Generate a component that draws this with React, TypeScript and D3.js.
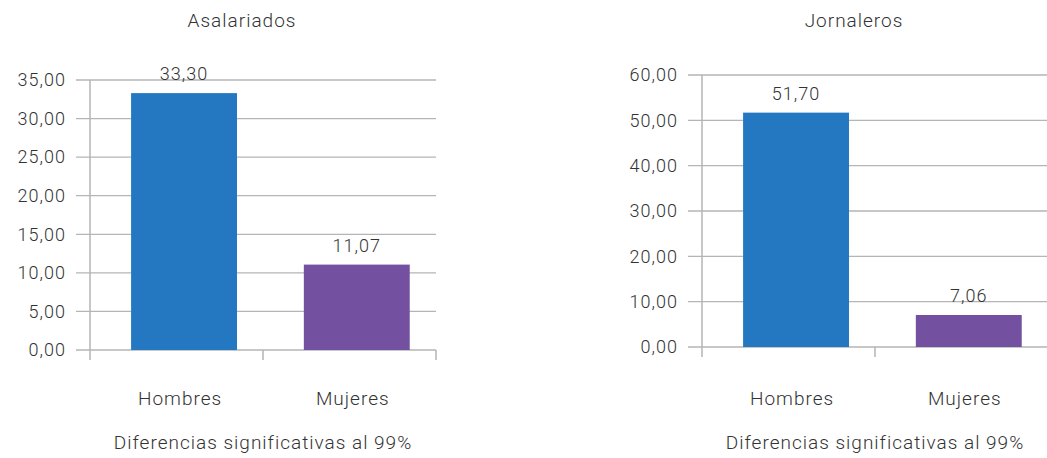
import React from "react";
import * as d3 from "d3";

const categories = ["Hombres", "Mujeres"];
const asalariadosValues = [33.3, 11.07];
const jornalerosValues = [51.7, 7.06];
const asalariadosTicks = [0, 5, 10, 15, 20, 25, 30, 35];
const jornalerosTicks = [0, 10, 20, 30, 40, 50, 60];
const barColors = ["#2378C1", "#7450A0"];
const titles = ["Asalariados", "Jornaleros"];
const footer = "Diferencias significativas al 99%";

const W = 1047;
const H = 458;
const FONT = "Roboto, 'Open Sans', sans-serif";
const TEXT = "#333";
const GRID = "#b5b5b5";
const WEIGHT = 300;

const fmt = (v: number) => v.toFixed(2).replace(".", ",");

type PanelProps = {
  title: string;
  values: number[];
  ticks: number[];
  axisX: number;
  rightX: number;
  gridRight: number;
  yTop: number;
  yBottom: number;
};

function Panel({ title, values, ticks, axisX, rightX, gridRight, yTop, yBottom }: PanelProps) {
  const y = d3
    .scaleLinear()
    .domain([0, d3.max(ticks) as number])
    .range([yBottom, yTop]);
  const x = d3
    .scaleBand<string>()
    .domain(categories)
    .range([axisX, rightX])
    .paddingInner(0.387)
    .paddingOuter(0.195)
    .align(0.61);
  const step = (rightX - axisX) / categories.length;
  const centerX = (axisX + rightX) / 2;
  const labelY = 405;
  const txt = { fill: TEXT, fontFamily: FONT, fontWeight: WEIGHT, letterSpacing: 1 };
  return (
    <g>
      <text x={centerX - 21} y={27} textAnchor="middle" fontSize={19} {...txt}>
        {title}
      </text>
      {ticks.map((t) => (
        <g key={t}>
          <line x1={axisX - 14} x2={gridRight} y1={y(t)} y2={y(t)} stroke={GRID} strokeWidth={1.3} />
          <text x={axisX - 24} y={y(t)} dy="0.35em" textAnchor="end" fontSize={18} {...txt}>
            {fmt(t)}
          </text>
        </g>
      ))}
      <line
        x1={axisX}
        x2={axisX}
        y1={y(d3.max(ticks) as number)}
        y2={yBottom + 10}
        stroke={GRID}
        strokeWidth={1.5}
      />
      {categories.map((c, i) => (
        <line
          key={"tk" + c}
          x1={axisX + step * (i + 1)}
          x2={axisX + step * (i + 1)}
          y1={yBottom}
          y2={yBottom + 10}
          stroke={GRID}
          strokeWidth={1.5}
        />
      ))}
      {categories.map((c, i) => (
        <g key={c}>
          <rect
            x={x(c)}
            y={y(values[i])}
            width={x.bandwidth()}
            height={yBottom - y(values[i])}
            fill={barColors[i]}
          />
          <text
            x={(x(c) as number) + x.bandwidth() / 2}
            y={y(values[i]) - 13}
            textAnchor="middle"
            fontSize={18}
            {...txt}
          >
            {fmt(values[i])}
          </text>
          <text
            x={(x(c) as number) + x.bandwidth() / 2 - 4}
            y={labelY}
            textAnchor="middle"
            fontSize={19}
            {...txt}
          >
            {c}
          </text>
        </g>
      ))}
      <text x={centerX} y={449} textAnchor="middle" fontSize={19} {...txt}>
        {footer}
      </text>
    </g>
  );
}

export default function App() {
  return (
    <svg width={W} height={H} style={{ position: "absolute", left: 0, top: 0, background: "#fff" }}>
      <rect width={W} height={H} fill="#fff" />
      <Panel
        title={titles[0]}
        values={asalariadosValues}
        ticks={asalariadosTicks}
        axisX={90}
        rightX={436}
        gridRight={436}
        yTop={80}
        yBottom={350}
      />
      <Panel
        title={titles[1]}
        values={jornalerosValues}
        ticks={jornalerosTicks}
        axisX={702}
        rightX={1048}
        gridRight={1047}
        yTop={75}
        yBottom={347}
      />
    </svg>
  );
}
